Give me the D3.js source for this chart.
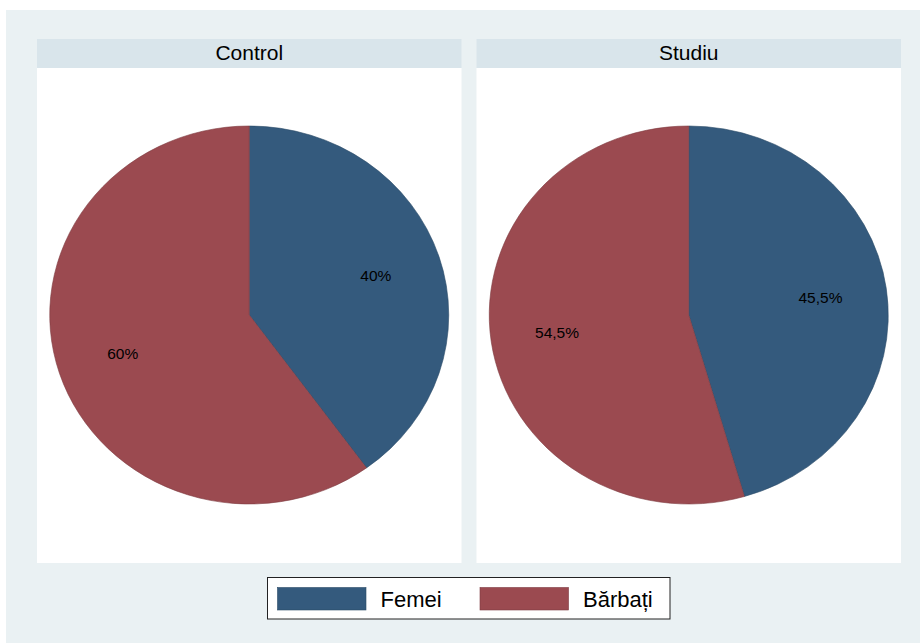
<!DOCTYPE html>
<html>
<head>
<meta charset="utf-8">
<script src="https://cdn.jsdelivr.net/npm/d3@7"></script>
<style>
  html, body { margin: 0; padding: 0; background: #ffffff; }
  svg { display: block; font-family: "Liberation Sans", Arial, Helvetica, sans-serif; }
</style>
</head>
<body>
<svg id="chart" width="920" height="643"></svg>
<script>
// ---- data ----
const groups = ["Control", "Studiu"];
const categories = ["Femei", "Bărbați"];
const femeiPct = [40, 45.5];
const barbatiPct = [60, 54.5];
const colors = ["#345a7d", "#9b4a50"];
const strokeColors = ["#2a4a67", "#7e3a40"];

// ---- layout ----
const W = 920, H = 643;
const svg = d3.select("#chart");

svg.append("rect").attr("x", 6).attr("y", 10).attr("width", W - 6).attr("height", H - 10)
  .attr("fill", "#eaf1f3");

const panelX = d3.scaleBand().domain(groups).range([37, 901]).paddingInner(30 / 879).paddingOuter(0);
const stripTop = 39, stripBottom = 68, panelBottom = 563;
const pieCy = 315, ry = 189, rx = 199.5;

const locale = d3.formatLocale({ decimal: ",", thousands: ".", grouping: [3], currency: ["", ""] });
const fmt = v => locale.format("~g")(v) + "%";

const pie = d3.pie().sort(null).value(d => d.value);
const arc = d3.arc().innerRadius(0).outerRadius(ry);
const labelArc = d3.arc().innerRadius(ry * 0.667).outerRadius(ry * 0.667);

groups.forEach((g, gi) => {
  const x0 = panelX(g), bw = panelX.bandwidth();
  const panel = svg.append("g");
  panel.append("rect").attr("x", x0).attr("y", stripBottom).attr("width", bw)
    .attr("height", panelBottom - stripBottom).attr("fill", "#ffffff");
  panel.append("rect").attr("x", x0).attr("y", stripTop).attr("width", bw)
    .attr("height", stripBottom - stripTop).attr("fill", "#d9e5eb");
  panel.append("text").attr("x", x0 + bw / 2).attr("y", 60)
    .attr("text-anchor", "middle").attr("font-size", 21).attr("fill", "#000")
    .text(g);

  const data = categories.map((c, ci) => ({ cat: c, ci, value: ci === 0 ? femeiPct[gi] : barbatiPct[gi] }));
  const arcs = pie(data);
  const cx = x0 + bw / 2;
  const sx = rx / ry;
  const pg = panel.append("g").attr("transform", `translate(${cx},${pieCy}) scale(${sx},1)`);
  pg.selectAll("path").data(arcs).join("path")
    .attr("d", arc)
    .attr("fill", d => colors[d.data.ci])
    .attr("stroke", d => strokeColors[d.data.ci])
    .attr("stroke-width", 0.6)
    .attr("vector-effect", "non-scaling-stroke");

  panel.selectAll("text.lbl").data(arcs).join("text")
    .attr("class", "lbl")
    .attr("x", d => cx + labelArc.centroid(d)[0] * sx)
    .attr("y", d => pieCy + labelArc.centroid(d)[1])
    .attr("dy", "0.35em")
    .attr("text-anchor", "middle")
    .attr("font-size", 15.5)
    .attr("fill", "#000")
    .text(d => fmt(d.data.value));
});

// ---- legend ----
const lg = svg.append("g");
lg.append("rect").attr("x", 267.5).attr("y", 577.5).attr("width", 402.5).attr("height", 41.5)
  .attr("fill", "#ffffff").attr("stroke", "#222").attr("stroke-width", 1);
const legX = d3.scaleOrdinal().domain(categories).range([277.5, 480]);
categories.forEach((c, ci) => {
  lg.append("rect").attr("x", legX(c)).attr("y", 587.5).attr("width", 88.5).attr("height", 22.5)
    .attr("fill", colors[ci]).attr("stroke", strokeColors[ci]).attr("stroke-width", 0.6);
  lg.append("text").attr("x", legX(c) + 103).attr("y", 607)
    .attr("font-size", 22).attr("fill", "#000").text(c);
});
</script>
</body>
</html>
